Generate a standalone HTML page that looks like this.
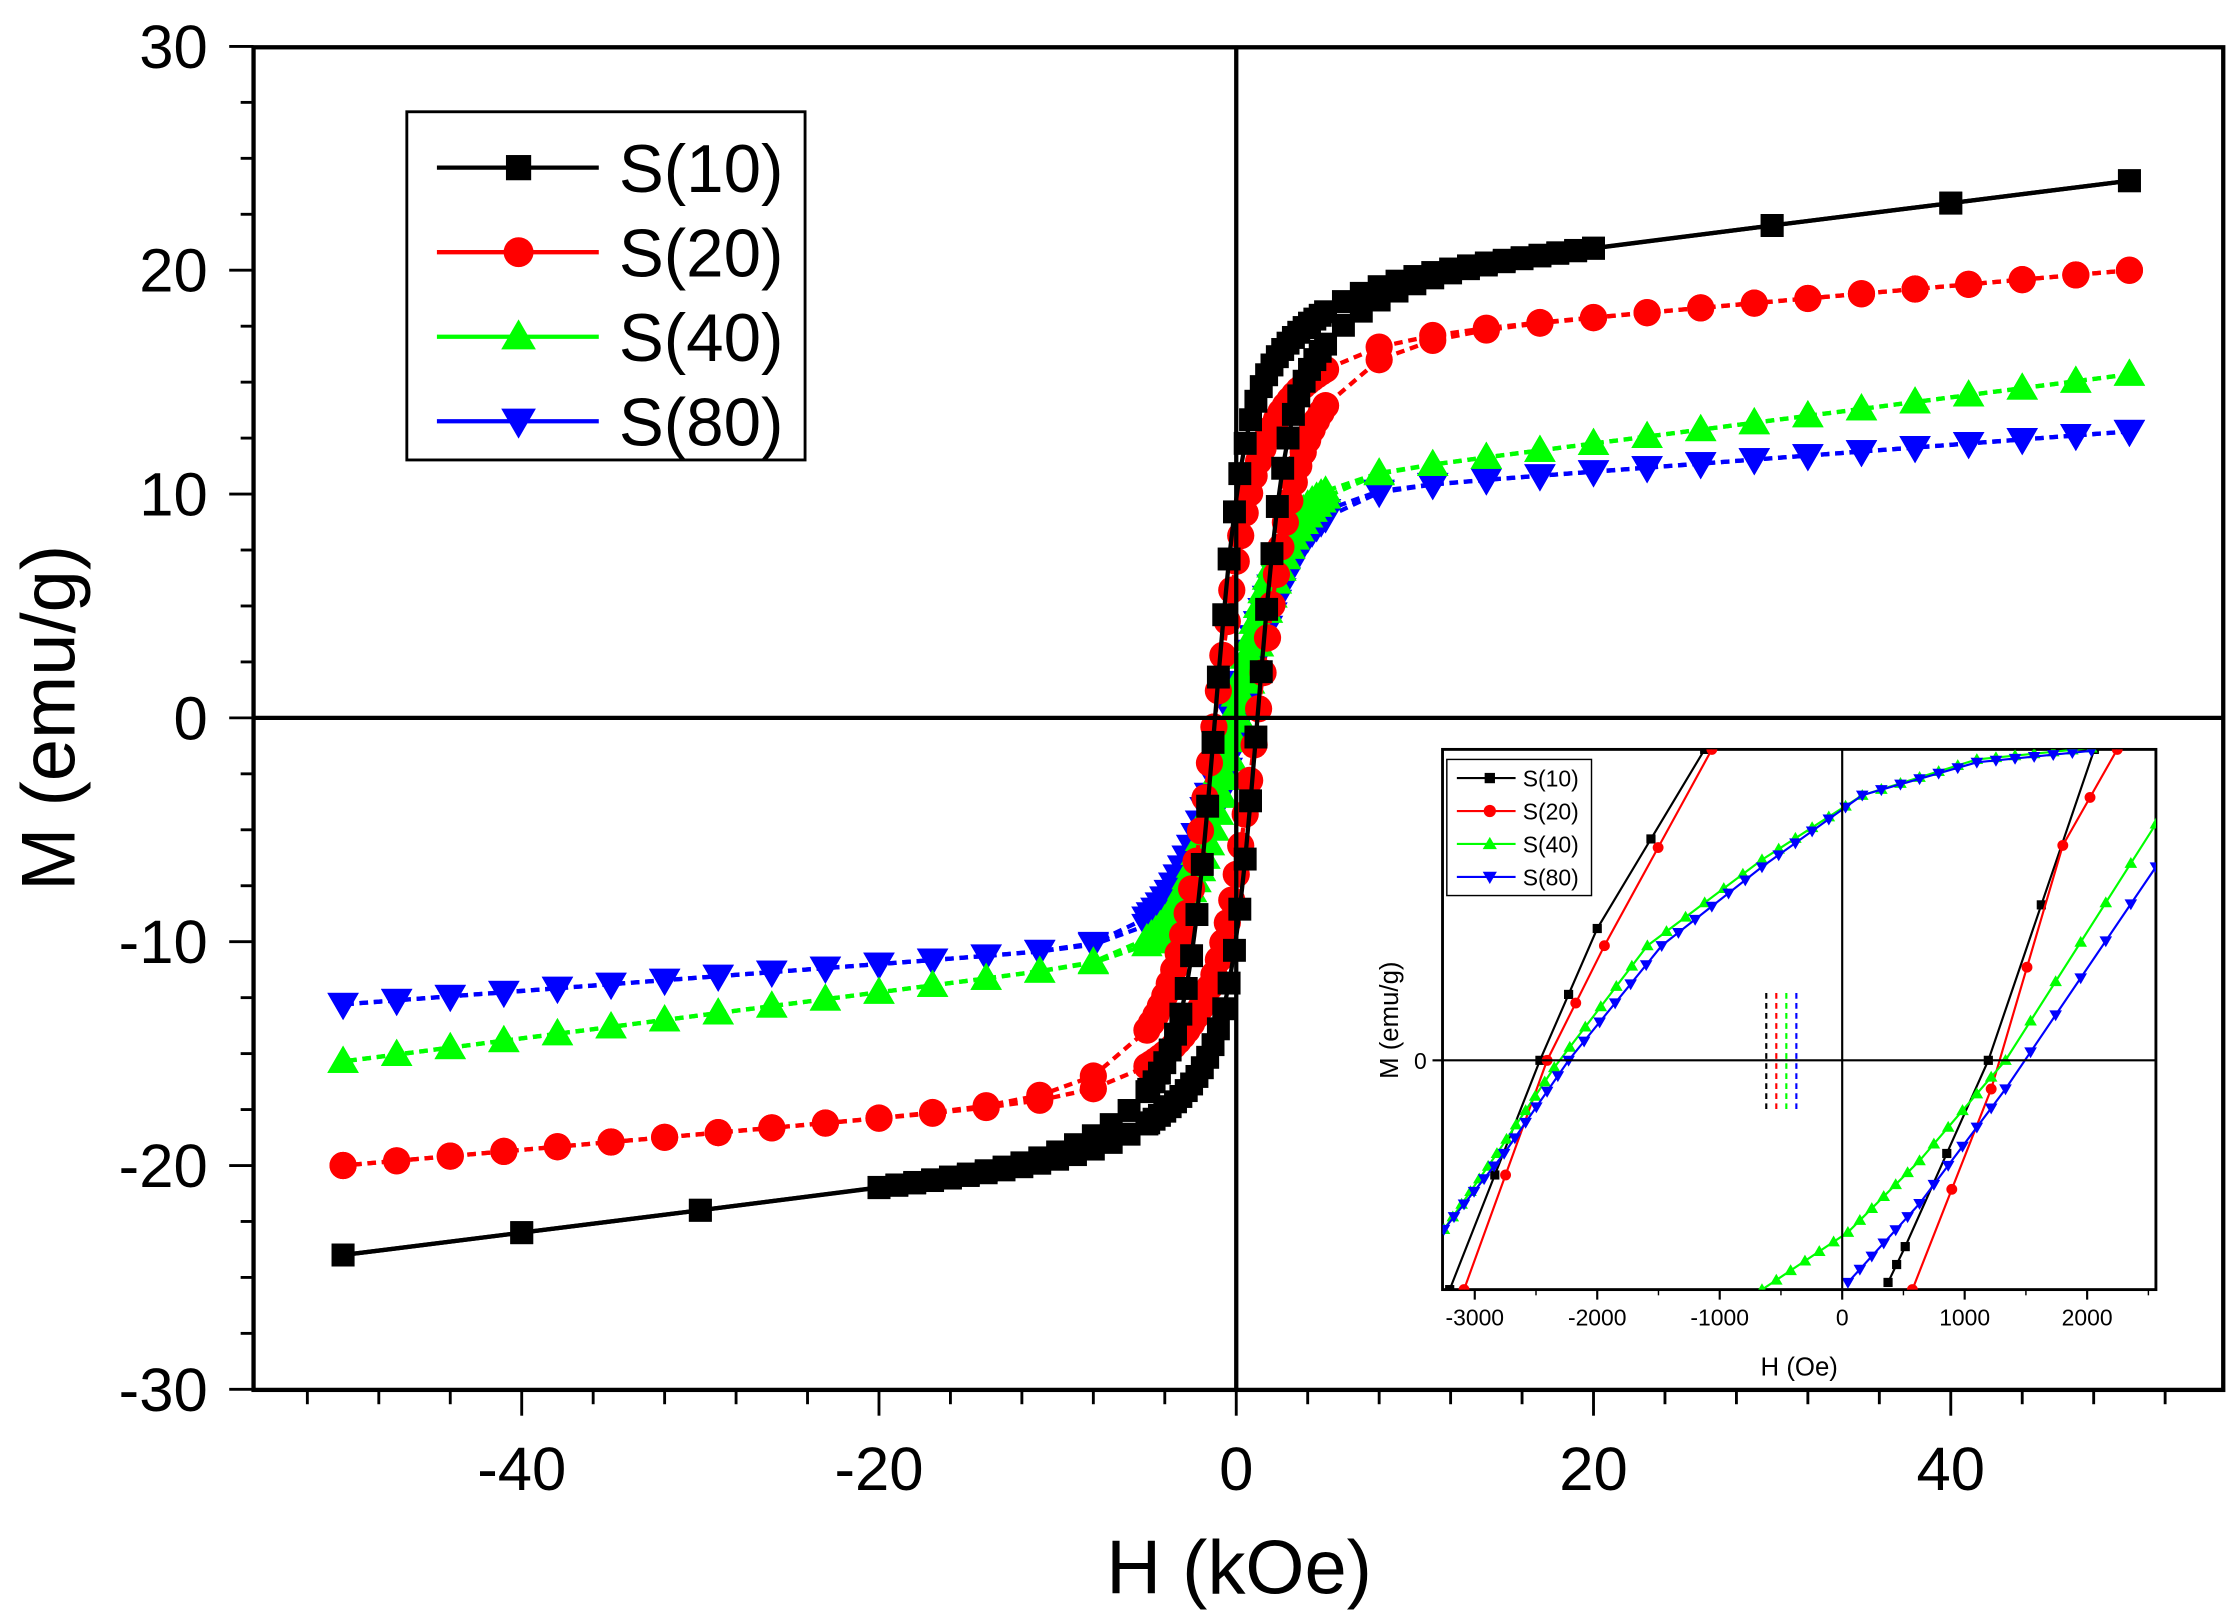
<!DOCTYPE html>
<html><head><meta charset="utf-8"><style>html,body{margin:0;padding:0;background:#fff}svg{display:block}</style></head>
<body>
<svg id="s" xmlns="http://www.w3.org/2000/svg" width="2239" height="1612" viewBox="0 0 1563 1125" preserveAspectRatio="none" font-family="Liberation Sans, Arial, sans-serif">
<rect width="1563" height="1125" fill="#fff"/>
<g id="main"></g>
</svg>
<script>
const NS="http://www.w3.org/2000/svg";
const g=document.getElementById('main');
function el(t,a,p){const e=document.createElementNS(NS,t);for(const k in a)e.setAttribute(k,a[k]);(p||g).appendChild(e);return e;}
function txt(x,y,s,a){const e=el('text',Object.assign({x:x,y:y},a));e.textContent=s;return e;}
const X=h=>863+h*12.47, Y=m=>501-m*15.62;
for(let v=-30;v<=30;v+=2.5){const y=Y(v);const maj=(v%10===0);el('line',{x1:maj?160:168,x2:177,y1:y,y2:y,stroke:'#000','stroke-width':2});}
for(let v=-30;v<=30;v+=10){txt(145,Y(v)+15,String(v),{'font-size':43,'text-anchor':'end'});}
for(let h=-52;h<=52;h+=4){const x=X(h);const maj=(h%20===0);el('line',{x1:x,x2:x,y1:970,y2:maj?988:980,stroke:'#000','stroke-width':2});}
for(let h=-40;h<=40;h+=20){txt(X(h),1040,String(h),{'font-size':43,'text-anchor':'middle'});}
txt(865,1112,'H (kOe)',{'font-size':53,'text-anchor':'middle'});
txt(0,0,'M (emu/g)',{'font-size':53,'text-anchor':'middle',transform:'translate(52,501) rotate(-90)'});
const S=[
 {c:'#000',M1:13,a1:1.5,M2:6,a2:6,hc:1.2,chi:0.1,m:'sq',dash:''},
 {c:'#f00',M1:11,a1:2,M2:5.5,a2:6,hc:1.2,chi:0.07,m:'ci',dash:'6,4'},
 {c:'#0f0',M1:10.2,a1:3.0,M2:0,a2:1,hc:0.3,chi:0.103,m:'up',dash:'6,4'},
 {c:'#00f',M1:9.8,a1:3.4,M2:0,a2:1,hc:0.3,chi:0.06,m:'dn',dash:'6,4'}];
function mk(type,x,y,c,s,par){s=s||1;par=par||g;
 if(type==='sq')el('rect',{x:x-8*s,y:y-8*s,width:16*s,height:16*s,fill:c},par);
 else if(type==='ci')el('circle',{cx:x,cy:y,r:9.5*s,fill:c},par);
 else if(type==='up')el('polygon',{points:`${x},${y-11*s} ${x-11*s},${y+8*s} ${x+11*s},${y+8*s}`,fill:c},par);
 else el('polygon',{points:`${x},${y+11*s} ${x-11*s},${y-8*s} ${x+11*s},${y-8*s}`,fill:c},par);}
function hs(i){const r=[];
 if(i===0){for(let h=50;h>20;h-=10)r.push(h);for(let h=20;h>5;h-=1)r.push(h);for(let h=5;h>=-5;h-=0.3)r.push(h);for(let h=-5;h>=-20;h-=1)r.push(h);for(let h=-30;h>=-50;h-=10)r.push(h);}
 else{for(let h=50;h>5;h-=3)r.push(h);for(let h=5;h>=-5;h-=0.25)r.push(h);for(let h=-8;h>=-50;h-=3)r.push(h);}
 return r;}
for(let i=3;i>=0;i--){const s=S[i];const H=hs(i);
 for(const br of [1,-1]){const pts=H.map(h=>{const hh=h+br*s.hc;const m=s.M1*Math.tanh(hh/s.a1)+s.M2*Math.tanh(hh/s.a2)+s.chi*h;return [X(h),Y(m)];});
  el('polyline',{points:pts.map(p=>p.join(',')).join(' '),fill:'none',stroke:s.c,'stroke-width':3,'stroke-dasharray':s.dash});
  pts.forEach(p=>mk(s.m,p[0],p[1],s.c));}}
el('rect',{x:177,y:33,width:1375,height:937,fill:'none',stroke:'#000','stroke-width':3});
el('line',{x1:863,x2:863,y1:33,y2:970,stroke:'#000','stroke-width':3});
el('line',{x1:177,x2:1552,y1:501,y2:501,stroke:'#000','stroke-width':3});
el('rect',{x:284,y:78,width:278,height:243,fill:'#fff',stroke:'#000','stroke-width':2});
['S(10)','S(20)','S(40)','S(80)'].forEach((n,i)=>{const y=117+i*59;const s=S[i];
 el('line',{x1:305,x2:418,y1:y,y2:y,stroke:s.c,'stroke-width':3});mk(s.m,362,y,s.c,1.1);
 txt(432,y+17,n,{'font-size':47});});
const I=el('g',{});
el('rect',{x:1007,y:523,width:498,height:377,fill:'#fff',stroke:'#000','stroke-width':2},I);
const ix=h=>1286+h*0.0855;
for(let h=-3000;h<=2000;h+=1000){el('line',{x1:ix(h),x2:ix(h),y1:900,y2:907,stroke:'#000','stroke-width':1.5},I);txt(ix(h),925,String(h),{'font-size':16,'text-anchor':'middle'},I);}
for(let h=-3000;h<=2500;h+=500)el('line',{x1:ix(h),x2:ix(h),y1:900,y2:904,stroke:'#000','stroke-width':1},I);
txt(1256,960,'H (Oe)',{'font-size':18,'text-anchor':'middle'},I);
txt(0,0,'M (emu/g)',{'font-size':18,'text-anchor':'middle',transform:'translate(976,712) rotate(-90)'},I);
txt(996,746,'0',{'font-size':16,'text-anchor':'end'},I);
el('line',{x1:1000,x2:1007,y1:740,y2:740,stroke:'#000','stroke-width':1.5},I);
const cp=el('clipPath',{id:'ic'},I);el('rect',{x:1007,y:523,width:498,height:377},cp);
const IG=el('g',{'clip-path':'url(#ic)'},I);
const lines=[
 {i:0,l:[[1012,900],[1075,740],[1115,648],[1190,523]],r:[[1318,895],[1330,870],[1388,740],[1462,523]]},
 {i:1,l:[[1022,900],[1080,740],[1120,660],[1195,523]],r:[[1335,900],[1390,760],[1440,590],[1478,523]]},
 {i:2,l:[[1008,858],[1045,805],[1085,745],[1150,660],[1230,600],[1300,555],[1380,530],[1460,522]],r:[[1230,900],[1290,860],[1340,810],[1400,740],[1505,575]]},
 {i:3,l:[[1008,858],[1050,805],[1095,740],[1160,660],[1230,605],[1300,555],[1380,532],[1460,524]],r:[[1290,895],[1340,840],[1400,760],[1505,605]]}];
lines.forEach(L=>{const s=S[L.i];for(const arr of [L.l,L.r]){
 const pts=[];for(let k=0;k<arr.length-1;k++){const n=6;for(let j=0;j<n;j++){const t=j/n;pts.push([arr[k][0]+(arr[k+1][0]-arr[k][0])*t,arr[k][1]+(arr[k+1][1]-arr[k][1])*t]);}}pts.push(arr[arr.length-1]);
 el('polyline',{points:arr.map(p=>p.join(',')).join(' '),fill:'none',stroke:s.c,'stroke-width':1.5},IG);
 pts.forEach((p,j)=>{if(L.i<2&&j%3)return;mk(s.m,p[0],p[1],s.c,0.4,IG);});}});
el('line',{x1:1007,x2:1505,y1:740,y2:740,stroke:'#000','stroke-width':1.5},I);
el('line',{x1:1286,x2:1286,y1:523,y2:900,stroke:'#000','stroke-width':1.5},I);
['#000','#f00','#0f0','#00f'].forEach((c,k)=>el('line',{x1:1233+k*7,x2:1233+k*7,y1:693,y2:775,stroke:c,'stroke-width':1.5,'stroke-dasharray':'4,3'},I));
el('rect',{x:1010,y:530,width:101,height:95,fill:'#fff',stroke:'#000','stroke-width':1},I);
['S(10)','S(20)','S(40)','S(80)'].forEach((n,i)=>{const y=543+i*23;const s=S[i];
 el('line',{x1:1017,x2:1058,y1:y,y2:y,stroke:s.c,'stroke-width':1.5},I);mk(s.m,1040,y,s.c,0.45,I);
 txt(1063,y+6,n,{'font-size':16},I);});
</script>
</body></html>
